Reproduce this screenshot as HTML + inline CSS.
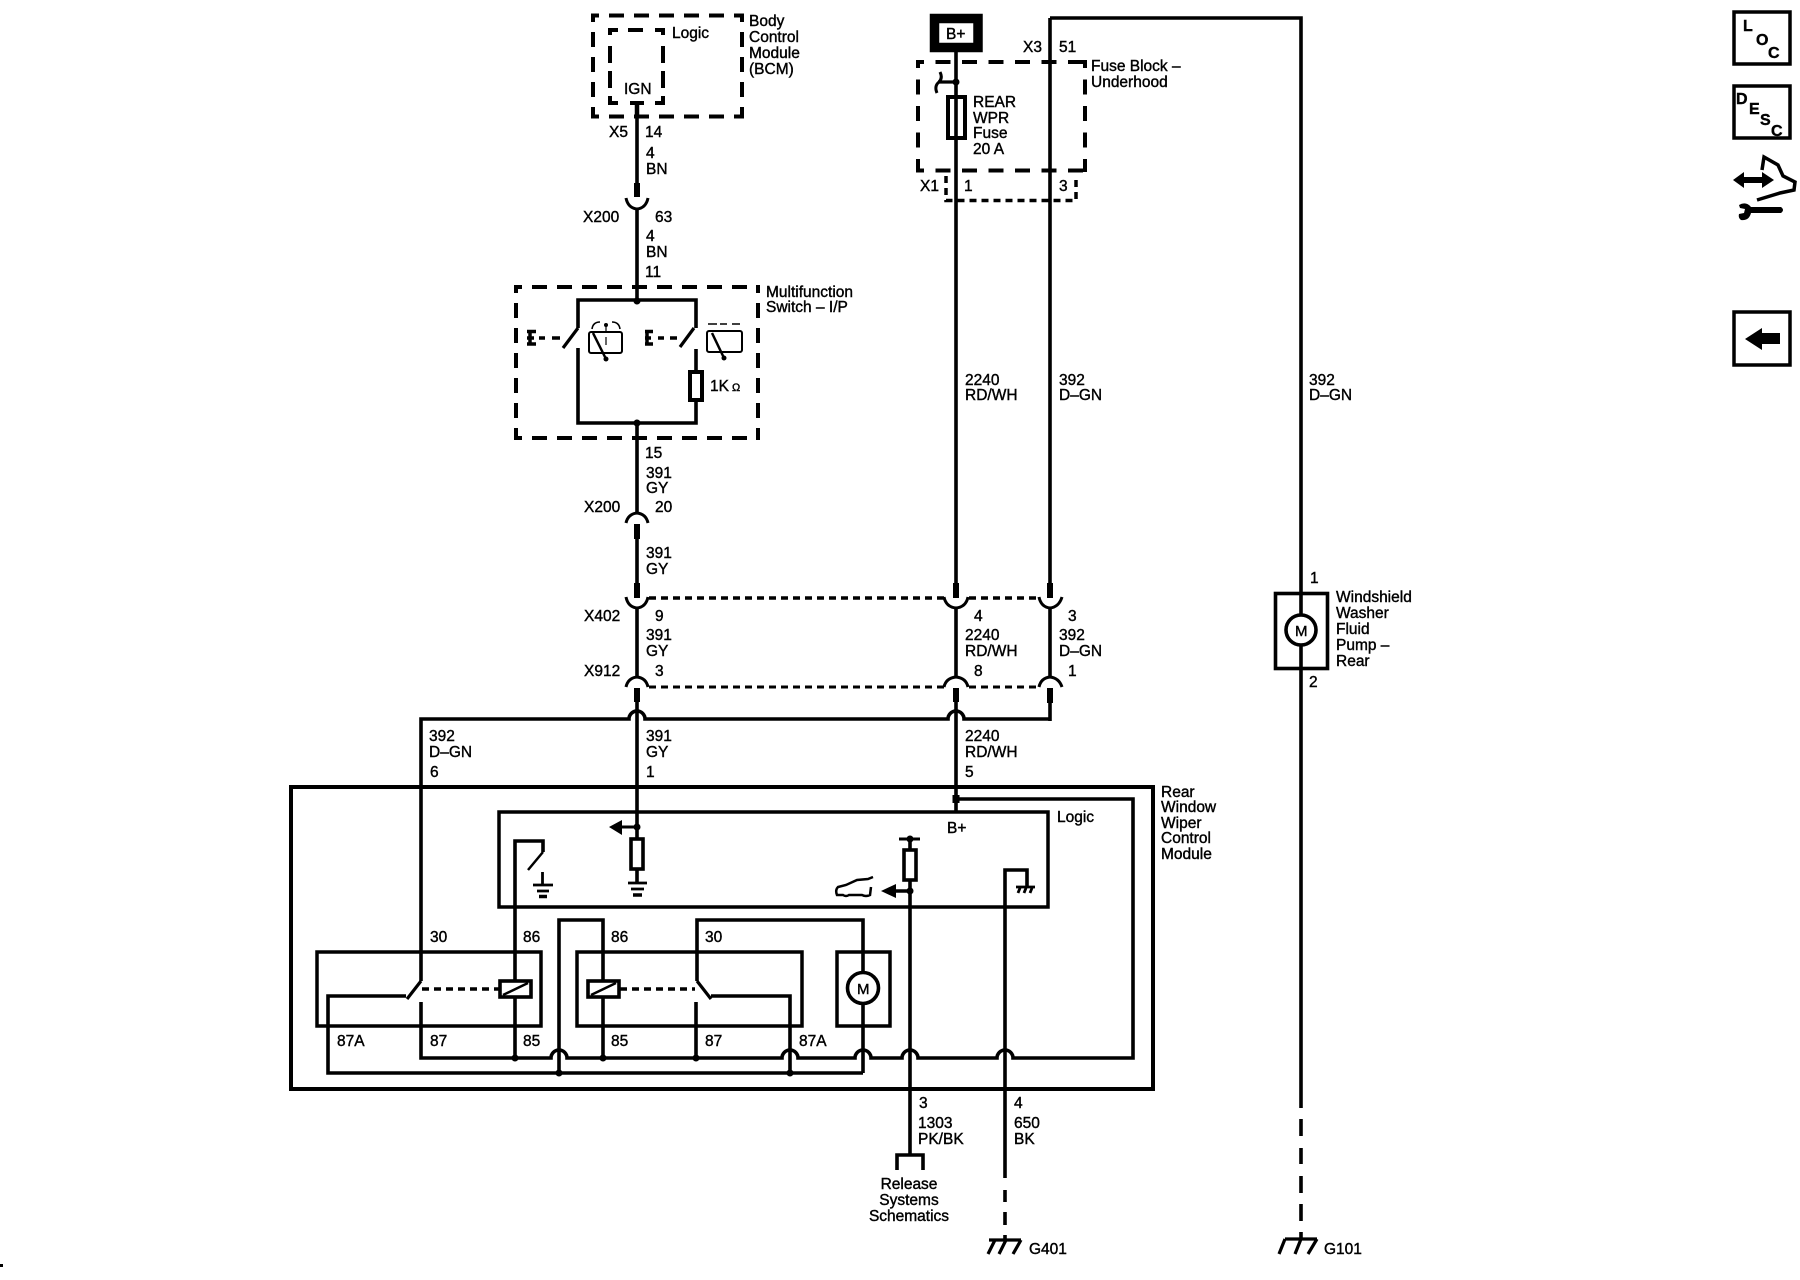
<!DOCTYPE html>
<html><head><meta charset="utf-8"><style>
html,body{margin:0;padding:0;background:#fff;width:1800px;height:1280px;overflow:hidden}
svg{display:block}
text{font-family:"Liberation Sans",sans-serif;font-size:15.5px;fill:#000;stroke:#000;stroke-width:.4}
.w{fill:none;stroke:#000;stroke-width:3.6}
.t{fill:none;stroke:#000;stroke-width:6}
.c{fill:none;stroke:#000;stroke-width:3}
.d1{fill:none;stroke:#000;stroke-width:4;stroke-dasharray:15 10;stroke-dashoffset:7}
.d3{fill:none;stroke:#000;stroke-width:4}
.d2{fill:none;stroke:#000;stroke-width:3.5;stroke-dasharray:7 5}
.b{fill:#fff;stroke:#000;stroke-width:3.6}
.n{fill:none;stroke:#000;stroke-width:2}
.k{fill:#000;stroke:none}
</style></head><body>
<svg width="1800" height="1280" viewBox="0 0 1800 1280" xmlns="http://www.w3.org/2000/svg">
<!-- dashed boxes: BCM -->
<path class="d1" d="M591 15.500H744"/><path class="d1" d="M591 116.500H744"/><path class="d1" d="M593 14V118"/><path class="d1" d="M742 14V118"/>
<!-- BCM logic -->
<path class="d3" d="M610 30H618M628 30H643M655 30H665M610 28V35M610 46V63M610 71V88M610 96V105M663 28V35M663 46V63M663 71V88M663 96V105M610 103H618M630 103H644M655 103H665"/>
<!-- Multifunction -->
<path class="d1" d="M514 287H760"/><path class="d1" d="M514 438H760"/><path class="d1" d="M516 285V440"/><path class="d1" d="M758 285V440"/>
<!-- Fuse block -->
<path class="d1" style="stroke-dasharray:15 11.500" d="M916 62H1087"/><path class="d1" style="stroke-dasharray:15 11.500" d="M916 170.500H1087"/><path class="d1" style="stroke-dasharray:15 11.500" d="M918 60V172"/><path class="d1" style="stroke-dasharray:15 11.500" d="M1085 60V172"/>
<path class="d2" d="M946 176V200.500H1076V176"/>
<path class="d2" d="M649 598H944M969 598H1039" />
<path class="d2" d="M649 687H944M969 687H1039" style="stroke-width:3"/>
<!-- wire 1 -->
<path class="w" d="M637 104V197M637 209V300M637 423V513M637 539V583M637 608V677M637 702V882"/>
<path class="t" d="M637 183V197M637 524V539M637 583V598M637 688V702"/>
<path class="w" d="M637 104V118" style="stroke-width:4.500"/>
<!-- wire 2 -->
<path class="w" d="M956 52V583M956 608V677M956 702V812"/>
<path class="t" d="M956 583V598M956 688V702"/>
<!-- wire 3 -->
<path class="w" d="M1050 18V583M1050 608V677M1050 703V721M1050 18H1301V1108"/>
<path class="t" d="M1050 583V598M1050 688V703"/>
<!-- far right dashes -->
<path class="w" d="M1301 1119V1136M1301 1148V1164M1301 1176V1193M1301 1204V1221M1301 1232V1239"/>
<!-- connector caps -->
<path class="c" d="M626 198Q628 208 637 209Q646 208 648 198M626 523Q628 514 637 513Q646 514 648 523M626 597Q628 607 637 608Q646 607 648 597M626 687Q628 678 637 677Q646 678 648 687"/>
<path class="c" d="M944 597Q946 607 956 608Q966 607 968 597M944 687Q946 678 956 677Q966 678 968 687M1039 597Q1041 607 1050 608Q1059 607 1062 597M1039 687Q1041 678 1050 677Q1059 678 1062 687"/>
<!-- horizontal with hops -->
<path class="w" d="M421 981V719H629A8 8 0 0 1 645 719H948A8 8 0 0 1 964 719H1050"/>
<!-- multifunction -->
<path class="w" d="M578 328V300H696V328M578 348V423H696V400M696 349V371"/>
<rect x="690" y="372" width="12" height="28" fill="#fff" stroke="#000" stroke-width="4"/>
<circle class="k" cx="637" cy="301" r="3.500"/><circle class="k" cx="637" cy="423" r="3.500"/>
<path class="c" d="M578 328L563 348M694 328L680 347" style="stroke-width:3.200"/>
<path class="c" d="M530 330V345M527 331.500H536M527 338H534M527 344H536" style="stroke-width:3.500"/>
<path class="c" d="M539 338H545M552 338H560" style="stroke-width:3.400"/>
<path class="c" d="M647 330V345M645 331.500H653M645 338H651M645 344H653" style="stroke-width:3.500"/>
<path class="c" d="M658 338H664M670 338H677" style="stroke-width:3.400"/>
<rect x="589" y="332" width="33" height="21" rx="2" class="n" style="stroke-width:2"/>
<path class="n" d="M593 333L606 359" style="stroke-width:2.500"/><circle class="k" cx="606" cy="359" r="2.500"/>
<path class="n" d="M606 325V332M606 337V345" style="stroke-width:1.200"/><circle class="k" cx="606" cy="325" r="2"/>
<path class="n" d="M592 329Q593 322 600 322M612 322Q619 322 620 329" style="stroke-width:1.600"/>
<rect x="707" y="331" width="35" height="21" rx="2" class="n"/>
<path class="n" d="M712 333L724 358" style="stroke-width:2.500"/><circle class="k" cx="724" cy="358" r="2.500"/>
<path class="n" d="M708 324H717M720 324H727M732 324H740" style="stroke-width:1.600"/>
<!-- B+ -->
<rect x="934.500" y="18.500" width="43.500" height="29" fill="#fff" stroke="#000" stroke-width="9.500"/>
<!-- fuse -->
<rect x="948" y="97" width="17" height="41" class="n" style="stroke-width:4"/>
<path class="n" d="M938 82H956" style="stroke-width:3.200"/><circle class="k" cx="956" cy="82" r="3.500"/>
<path class="n" d="M940 72Q943 78 939 82Q934 86 937 93" style="stroke-width:3"/>
<!-- rear module -->
<rect x="291" y="787" width="862" height="302" fill="none" stroke="#000" stroke-width="4"/>
<rect x="499" y="812" width="549" height="95" fill="none" stroke="#000" stroke-width="3.500"/>
<rect x="317" y="952" width="224" height="74" fill="none" stroke="#000" stroke-width="3.500"/>
<rect x="577" y="952" width="225" height="74" fill="none" stroke="#000" stroke-width="3.500"/>
<rect x="837" y="952" width="53" height="74" fill="none" stroke="#000" stroke-width="3.500"/>
<!-- mid bus -->
<path class="w" d="M421 1002V1058H551A8 8 0 0 1 567 1058H782A8 8 0 0 1 798 1058H855A8 8 0 0 1 871 1058H902A8 8 0 0 1 918 1058H997A8 8 0 0 1 1013 1058H1133V799H956"/>
<!-- bottom bus -->
<path class="w" d="M406 996H328V1073H863"/>
<path class="w" d="M515 907V1058M543 852V841H515V907"/>
<path class="w" d="M603 1058V920H559V1073M697 981V920H863V1073M696 1002V1058M711 996H790V1073"/>
<path class="c" d="M421 981L407 999M697 981L711 999" style="stroke-width:3.200"/>
<path class="d2" d="M422 989H499M620 989H695"/>
<rect class="b" x="500" y="981" width="31" height="16"/><path class="n" d="M503 995L528 983" style="stroke-width:2.500"/>
<rect class="b" x="588" y="981" width="31" height="16"/><path class="n" d="M591 995L616 983" style="stroke-width:2.500"/>
<circle class="b" cx="863" cy="988" r="15.500"/>
<g class="k"><circle cx="515" cy="1058" r="3.500"/><circle cx="603" cy="1058" r="3.500"/><circle cx="696" cy="1058" r="3.500"/><circle cx="559" cy="1073" r="3.500"/><circle cx="790" cy="1073" r="3.500"/><rect x="952.500" y="795" width="7" height="8"/></g>
<!-- logic internals -->
<path class="n" d="M543 852L528 870" style="stroke-width:2.500"/>
<path class="n" d="M542.500 872V885M533 885H553M537 891H549" style="stroke-width:2.800"/>
<path class="n" d="M539 896.500H547" style="stroke-width:3.500"/>
<circle class="k" cx="637" cy="827" r="3.500"/><path class="n" d="M620 827H637" style="stroke-width:3"/><path class="k" d="M609 827L622 820V835Z"/>
<rect class="b" x="631" y="839" width="12" height="30"/>
<path class="n" d="M628 883H647M631 889H644" style="stroke-width:2.800"/><path class="n" d="M633 895H642" style="stroke-width:3.500"/>
<!-- 1303 wire -->
<path class="w" d="M910 839V1155M897 1170V1155H923V1170"/>
<path class="n" d="M899 839H920" style="stroke-width:3"/><circle class="k" cx="910" cy="839" r="3.500"/>
<rect class="b" x="904" y="850" width="12" height="30"/>
<circle class="k" cx="910" cy="891" r="3.500"/><path class="n" d="M893 891H910" style="stroke-width:3.500"/><path class="k" d="M881 891L896 884V898Z"/>
<path class="n" style="stroke-width:2.500" d="M873 877L868 879L857 880L846 885L838 887Q835 890 837 895L843 895Q846 897 849 895L862 895Q866 897 870 895L871 887"/>
<!-- 650 wire -->
<path class="w" d="M1005 1178V870H1027V887M1005 1190V1202M1005 1212V1225M1005 1235V1240"/>
<path class="n" d="M1016 887H1035M1020 888L1018 893M1026 888L1024 893M1032 888L1030 893" style="stroke-width:2.800"/>
<!-- grounds -->
<path class="n" d="M989 1240H1021M995 1240L988 1254M1006 1240L999 1254M1021 1240L1013 1254" style="stroke-width:3.200"/>
<path class="n" d="M1285 1239H1317M1285 1239L1279 1254M1301 1239L1295 1254M1317 1239L1308 1254" style="stroke-width:3.200"/>
<!-- pump -->
<rect x="1275.500" y="593.500" width="52" height="75" fill="none" stroke="#000" stroke-width="3.600"/>
<circle class="b" cx="1301" cy="630" r="15"/>
<!-- right icons -->
<g fill="#fff" stroke="#000" stroke-width="3.500"><rect x="1734" y="12" width="56" height="52"/><rect x="1734" y="86" width="56" height="52"/><rect x="1734" y="312" width="56" height="53"/></g>
<path class="k" d="M1745 339L1762 328V333H1780V344H1762V350Z"/>
<path class="k" d="M1733 180L1744 172V177H1762V172L1774 180L1762 188V183H1744V188Z"/>
<path class="n" d="M1762 170L1764 157L1778 165L1783 176L1795 182L1794 190L1780 193L1757 200" style="stroke-width:3.500"/>
<path class="k" d="M1739 205Q1746 201 1751 207H1781Q1785 210 1781 213H1751Q1749 221 1741 220Q1738 218 1739 214L1744 213L1745 209L1740 208Z"/>
<rect class="k" x="0" y="1264" width="3" height="3"/>
<!-- text -->
<text x="749" y="26">Body</text><text x="749" y="42">Control</text><text x="749" y="58">Module</text><text x="749" y="74">(BCM)</text>
<text x="672" y="38">Logic</text><text x="624" y="94">IGN</text>
<text x="609" y="137">X5</text><text x="645" y="137">14</text>
<text x="646" y="158">4</text><text x="646" y="174">BN</text>
<text x="583" y="222">X200</text><text x="655" y="222">63</text>
<text x="646" y="241">4</text><text x="646" y="257">BN</text><text x="645" y="277">11</text>
<text x="766" y="297">Multifunction</text><text x="766" y="312">Switch – I/P</text>
<text x="710" y="391">1K<tspan dx="3" style="font-size:11px">Ω</tspan></text>
<text x="645" y="458">15</text><text x="646" y="478">391</text><text x="646" y="493">GY</text>
<text x="584" y="512">X200</text><text x="655" y="512">20</text>
<text x="646" y="558">391</text><text x="646" y="574">GY</text>
<text x="584" y="621">X402</text><text x="655" y="621">9</text>
<text x="646" y="640">391</text><text x="646" y="656">GY</text>
<text x="584" y="676">X912</text><text x="655" y="676">3</text>
<text x="646" y="741">391</text><text x="646" y="757">GY</text><text x="646" y="777">1</text>
<text x="429" y="741">392</text><text x="429" y="757">D–GN</text><text x="430" y="777">6</text>
<text x="946" y="39">B+</text><text x="1023" y="52">X3</text><text x="1059" y="52">51</text>
<text x="1091" y="71">Fuse Block –</text><text x="1091" y="87">Underhood</text>
<text x="973" y="107">REAR</text><text x="973" y="123">WPR</text><text x="973" y="138">Fuse</text><text x="973" y="154">20 A</text>
<text x="920" y="191">X1</text><text x="964" y="191">1</text><text x="1059" y="191">3</text>
<text x="965" y="385">2240</text><text x="965" y="400">RD/WH</text>
<text x="1059" y="385">392</text><text x="1059" y="400">D–GN</text>
<text x="1309" y="385">392</text><text x="1309" y="400">D–GN</text>
<text x="974" y="621">4</text><text x="965" y="640">2240</text><text x="965" y="656">RD/WH</text><text x="974" y="676">8</text>
<text x="1068" y="621">3</text><text x="1059" y="640">392</text><text x="1059" y="656">D–GN</text><text x="1068" y="676">1</text>
<text x="965" y="741">2240</text><text x="965" y="757">RD/WH</text><text x="965" y="777">5</text>
<text x="1310" y="583">1</text><text x="1309" y="687">2</text>
<text x="1336" y="602">Windshield</text><text x="1336" y="618">Washer</text><text x="1336" y="634">Fluid</text><text x="1336" y="650">Pump –</text><text x="1336" y="666">Rear</text>
<text x="1295" y="636" style="font-size:15px">M</text>
<text x="857" y="994" style="font-size:15px">M</text>
<text x="1161" y="797">Rear</text><text x="1161" y="812">Window</text><text x="1161" y="828">Wiper</text><text x="1161" y="843">Control</text><text x="1161" y="859">Module</text>
<text x="1057" y="822">Logic</text><text x="947" y="833">B+</text>
<text x="430" y="942">30</text><text x="523" y="942">86</text><text x="611" y="942">86</text><text x="705" y="942">30</text>
<text x="337" y="1046">87A</text><text x="430" y="1046">87</text><text x="523" y="1046">85</text><text x="611" y="1046">85</text><text x="705" y="1046">87</text><text x="799" y="1046">87A</text>
<text x="919" y="1108">3</text><text x="918" y="1128">1303</text><text x="918" y="1144">PK/BK</text>
<text x="1014" y="1108">4</text><text x="1014" y="1128">650</text><text x="1014" y="1144">BK</text>
<text x="909" y="1189" text-anchor="middle">Release</text><text x="909" y="1205" text-anchor="middle">Systems</text><text x="909" y="1221" text-anchor="middle">Schematics</text>
<text x="1029" y="1254">G401</text><text x="1324" y="1254">G101</text>
<g><text x="1743" y="31" style="font-size:16px;font-weight:bold">L</text><text x="1756" y="45" style="font-size:16px;font-weight:bold">O</text><text x="1768" y="58" style="font-size:16px;font-weight:bold">C</text>
<text x="1736" y="104" style="font-size:16px;font-weight:bold">D</text><text x="1749" y="114" style="font-size:16px;font-weight:bold">E</text><text x="1760" y="125" style="font-size:16px;font-weight:bold">S</text><text x="1771" y="136" style="font-size:16px;font-weight:bold">C</text></g>
</svg>
</body></html>
